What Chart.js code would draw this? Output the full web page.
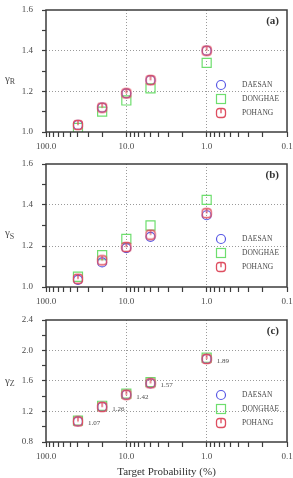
<!DOCTYPE html>
<html><head><meta charset="utf-8">
<script src="https://cdn.jsdelivr.net/npm/chart.js@4.4.1/dist/chart.umd.min.js"></script>
<style>
html,body{margin:0;padding:0;background:#fff;}
#wrap{position:relative;width:293px;height:478px;overflow:hidden;}
canvas{position:absolute;left:0;}
</style></head><body>
<div id="wrap">
<canvas id="ca" width="293" height="157" style="top:0px"></canvas>
<canvas id="cb" width="293" height="157" style="top:157px"></canvas>
<canvas id="cc" width="293" height="164" style="top:314px"></canvas>
</div>
<script>
// ---------- data ----------
const probabilities = [40, 20, 10, 5, 1];           // target probability (%)
const seriesNames = ['DAESAN', 'DONGHAE', 'POHANG'];

const gammaR_daesan  = [1.035, 1.12, 1.19, 1.255, 1.40];
const gammaR_donghae = [1.02, 1.10, 1.155, 1.215, 1.34];
const gammaR_pohang  = [1.035, 1.12, 1.19, 1.255, 1.40];

const gammaS_daesan  = [1.035, 1.12, 1.19, 1.245, 1.35];
const gammaS_donghae = [1.05, 1.155, 1.235, 1.30, 1.425];
const gammaS_pohang  = [1.04, 1.13, 1.195, 1.255, 1.36];

const gammaZ_daesan  = [1.07, 1.26, 1.42, 1.57, 1.89];
const gammaZ_donghae = [1.08, 1.275, 1.435, 1.585, 1.905];
const gammaZ_pohang  = [1.07, 1.26, 1.42, 1.57, 1.89];
const gammaZ_labels  = ['1.07', '1.26', '1.42', '1.57', '1.89'];

const xMajorTicks = [100, 10, 1, 0.1];
const xMajorLabels = ['100.0', '10.0', '1.0', '0.1'];
const xMinorMultipliers = [2, 3, 4, 5, 6, 7, 8, 9];

// ---------- styling ----------
const SERIF = "'Liberation Serif', 'Times New Roman', serif";
const BLUE = 'rgb(88,88,228)';
const GREEN = 'rgb(110,222,110)';
const RED = 'rgb(222,78,96)';
const AXIS = '#3c3c3c';
const TXT = '#4a4a4a';

function makePohangMarker() {
  const c = document.createElement('canvas');
  c.width = 12; c.height = 12;
  const g = c.getContext('2d');
  g.strokeStyle = RED; g.lineWidth = 1.3;
  const x0 = 1.5, y0 = 1.5, s = 9, r = 3;
  g.beginPath();
  g.moveTo(x0 + r, y0);
  g.lineTo(x0 + s - r, y0);
  g.quadraticCurveTo(x0 + s, y0, x0 + s, y0 + r);
  g.lineTo(x0 + s, y0 + s - r);
  g.quadraticCurveTo(x0 + s, y0 + s, x0 + s - r, y0 + s);
  g.lineTo(x0 + r, y0 + s);
  g.quadraticCurveTo(x0, y0 + s, x0, y0 + s - r);
  g.lineTo(x0, y0 + r);
  g.quadraticCurveTo(x0, y0, x0 + r, y0);
  g.stroke();
  g.beginPath();
  g.moveTo(6, 1); g.lineTo(6, 6.2);
  g.stroke();
  return c;
}
const pohangMarker = makePohangMarker();

function xTickList() {
  const t = [];
  for (let i = 0; i < xMajorTicks.length; i++) {
    t.push(xMajorTicks[i]);
    if (i < xMajorTicks.length - 1) {
      const base = xMajorTicks[i + 1];
      for (let k = xMinorMultipliers.length - 1; k >= 0; k--) t.push(base * xMinorMultipliers[k]);
    }
  }
  return t;
}
function isXMajor(v) { return xMajorTicks.some(m => Math.abs(v - m) / m < 1e-6); }
function xLabel(v) {
  const i = xMajorTicks.findIndex(m => Math.abs(v - m) / m < 1e-6);
  return i >= 0 ? xMajorLabels[i] : '';
}

const decorPlugin = {
  id: 'decor',
  afterDatasetsDraw(chart, args, o) {
    const ctx = chart.ctx, a = chart.chartArea;
    ctx.save();
    ctx.strokeStyle = AXIS; ctx.lineWidth = 1.5;
    ctx.strokeRect(a.left, a.top, a.right - a.left, a.bottom - a.top);
    ctx.fillStyle = '#333';
    ctx.font = 'bold 11px ' + SERIF;
    ctx.textAlign = 'right'; ctx.textBaseline = 'middle';
    ctx.fillText(o.panel, a.right - 8, a.top + 11);
    const cy = (a.top + a.bottom) / 2 + o.yTitleShift;
    ctx.fillStyle = TXT; ctx.textAlign = 'left';
    ctx.font = '11px ' + SERIF;
    ctx.fillText('γ', 5, cy);
    const gw = ctx.measureText('γ').width;
    ctx.font = '8px ' + SERIF;
    ctx.fillText(o.sub, 5 + gw, cy + 3);
    const lx = a.left + 175, tx = a.left + 196;
    const styles = ['circle', 'rect', 'img'];
    const colors = [BLUE, GREEN, RED];
    for (let i = 0; i < seriesNames.length; i++) {
      const y = a.top + 75 + i * 14;
      ctx.lineWidth = 1.2; ctx.strokeStyle = colors[i];
      if (styles[i] === 'circle') { ctx.beginPath(); ctx.arc(lx, y, 4.5, 0, Math.PI * 2); ctx.stroke(); }
      else if (styles[i] === 'rect') { ctx.strokeRect(lx - 4.5, y - 4.5, 9, 9); }
      else { ctx.drawImage(pohangMarker, lx - 6, y - 6); }
      ctx.fillStyle = TXT; ctx.font = '7.5px ' + SERIF;
      ctx.textAlign = 'left'; ctx.textBaseline = 'middle';
      ctx.fillText(seriesNames[i], tx, y);
    }
    if (o.values) {
      const xs = chart.scales.x, ys = chart.scales.y;
      ctx.font = '7px ' + SERIF; ctx.fillStyle = TXT;
      for (let i = 0; i < probabilities.length; i++) {
        ctx.fillText(o.values[i], xs.getPixelForValue(probabilities[i]) + 10, ys.getPixelForValue(o.valuesY[i]) + 2);
      }
    }
    if (o.xTitle) {
      ctx.font = '11px ' + SERIF; ctx.fillStyle = '#333';
      ctx.textAlign = 'center';
      ctx.fillText(o.xTitle, (a.left + a.right) / 2, chart.height - 6);
    }
    ctx.restore();
  }
};

function makeChart(id, d1, d2, d3, ymin, ymax, ystep, ylabelEvery, cfg) {
  const H = document.getElementById(id).height;
  return new Chart(document.getElementById(id), {
    type: 'scatter',
    data: {
      datasets: [
        { label: seriesNames[0], data: probabilities.map((p, i) => ({ x: p, y: d1[i] })),
          pointStyle: 'circle', pointRadius: 4.5, borderColor: BLUE, backgroundColor: 'rgba(0,0,0,0)', borderWidth: 1.2, order: 1 },
        { label: seriesNames[1], data: probabilities.map((p, i) => ({ x: p, y: d2[i] })),
          pointStyle: 'rect', pointRadius: 6.4, borderColor: GREEN, backgroundColor: 'rgba(0,0,0,0)', borderWidth: 1.2, order: 2 },
        { label: seriesNames[2], data: probabilities.map((p, i) => ({ x: p, y: d3[i] })),
          pointStyle: pohangMarker, pointRadius: 6, borderColor: RED, backgroundColor: 'rgba(0,0,0,0)', order: 0 }
      ]
    },
    plugins: [decorPlugin],
    options: {
      responsive: false, animation: false, devicePixelRatio: 1,
      layout: { autoPadding: false, padding: { left: 0, right: 6, top: cfg.top, bottom: 0 } },
      plugins: { legend: { display: false }, tooltip: { enabled: false }, decor: cfg.decor },
      scales: {
        x: {
          type: 'logarithmic', reverse: true, min: 0.1, max: 100,
          afterBuildTicks(s) { s.ticks = xTickList().map(v => ({ value: v })); },
          afterFit(s) { s.height = H - cfg.top - cfg.plotH; s.paddingLeft = 0; s.paddingRight = 0; s.paddingTop = 0; s.paddingBottom = 0; },
          border: { display: false, dash: [1, 2] },
          grid: {
            color: c => (c.tick && isXMajor(c.tick.value) && c.tick.value !== 100 && c.tick.value !== 0.1) ? '#9a9a9a' : 'rgba(0,0,0,0)',
            tickColor: AXIS, tickLength: 5, lineWidth: 1, tickWidth: 1.2
          },
          ticks: {
            autoSkip: false, maxRotation: 0, padding: 4,
            font: { family: SERIF, size: 9 }, color: TXT,
            callback: v => xLabel(v)
          }
        },
        y: {
          min: ymin, max: ymax,
          afterFit(s) { s.width = 46; s.paddingLeft = 0; s.paddingRight = 0; s.paddingTop = 0; s.paddingBottom = 0; },
          border: { display: false, dash: [1, 2] },
          grid: {
            color: c => {
              if (!c.tick) return 'rgba(0,0,0,0)';
              const v = Math.round(c.tick.value * 10);
              const major = v % ylabelEvery === 0;
              return (major && Math.abs(c.tick.value - ymin) > 1e-6 && Math.abs(c.tick.value - ymax) > 1e-6) ? '#9a9a9a' : 'rgba(0,0,0,0)';
            },
            tickColor: AXIS, tickLength: 4, lineWidth: 1, tickWidth: 1.2
          },
          ticks: {
            stepSize: ystep, padding: 9,
            font: { family: SERIF, size: 9 }, color: TXT,
            callback: v => (Math.round(v * 10) % ylabelEvery === 0) ? v.toFixed(1) : ''
          }
        }
      }
    }
  });
}

makeChart('ca', gammaR_daesan, gammaR_donghae, gammaR_pohang, 1.0, 1.6, 0.1, 2,
  { top: 10, plotH: 122, decor: { panel: '(a)', sub: 'R', yTitleShift: 8 } });
makeChart('cb', gammaS_daesan, gammaS_donghae, gammaS_pohang, 1.0, 1.6, 0.1, 2,
  { top: 7, plotH: 123, decor: { panel: '(b)', sub: 'S', yTitleShift: 8 } });
makeChart('cc', gammaZ_daesan, gammaZ_donghae, gammaZ_pohang, 0.8, 2.4, 0.2, 4,
  { top: 6, plotH: 122, decor: { panel: '(c)', sub: 'Z', yTitleShift: 0, values: gammaZ_labels, valuesY: gammaZ_daesan, xTitle: 'Target Probability (%)' } });
</script>
</body></html>
